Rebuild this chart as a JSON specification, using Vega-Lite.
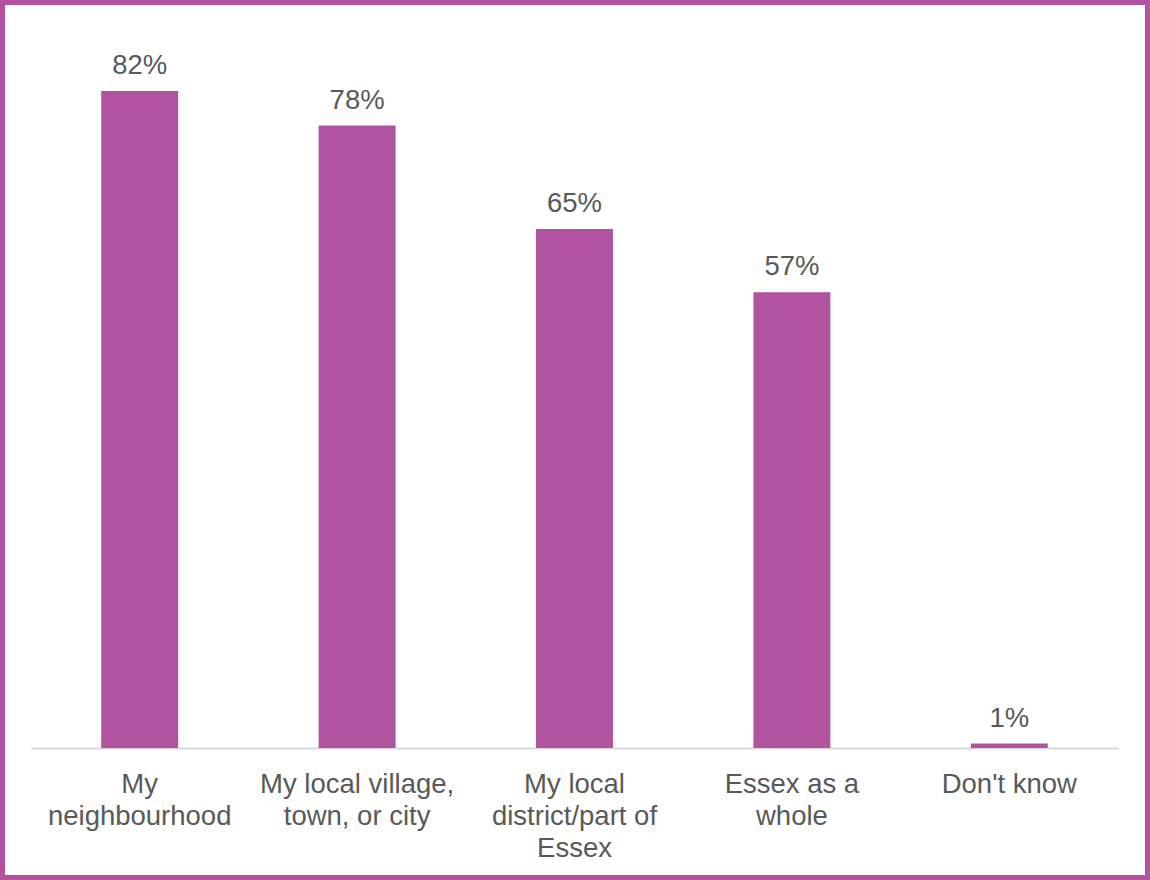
{
  "$schema": "https://vega.github.io/schema/vega-lite/v6.json",
  "width": 1140,
  "height": 870,
  "padding": 5,
  "autosize": {"type": "none"},
  "background": "#B1539F",
  "config": {
    "view": {"fill": "white", "stroke": null},
    "font": "Liberation Sans"
  },
  "data": {
    "values": [
      {"cat": "My neighbourhood", "pct": 0.82},
      {"cat": "My local village, town, or city", "pct": 0.777},
      {"cat": "My local district/part of Essex", "pct": 0.648},
      {"cat": "Essex as a whole", "pct": 0.569},
      {"cat": "Don't know", "pct": 0.0055}
    ]
  },
  "encoding": {
    "x": {
      "field": "cat",
      "type": "nominal",
      "sort": null,
      "scale": {"range": [26, 1113], "paddingInner": 0.646, "paddingOuter": 0.323},
      "axis": {
        "orient": "bottom",
        "offset": -127,
        "title": null,
        "ticks": false,
        "grid": false,
        "labelAngle": 0,
        "labelPadding": 22,
        "labelFontSize": 27.5,
        "labelColor": "#595959",
        "labelLineHeight": 32,
        "labelOverlap": false,
        "labelLimit": 0,
        "domainColor": "#D9D9D9",
        "domainWidth": 2,
        "labelExpr": "datum.value == 'My neighbourhood' ? ['My', 'neighbourhood'] : datum.value == 'My local village, town, or city' ? ['My local village,', 'town, or city'] : datum.value == 'My local district/part of Essex' ? ['My local', 'district/part of', 'Essex'] : datum.value == 'Essex as a whole' ? ['Essex as a', 'whole'] : datum.value"
      }
    },
    "y": {
      "field": "pct",
      "type": "quantitative",
      "scale": {"domain": [0, 0.9], "range": [743, 22]},
      "axis": null
    }
  },
  "layer": [
    {"mark": {"type": "bar", "color": "#B1539F"}},
    {
      "mark": {"type": "text", "baseline": "alphabetic", "dy": -17, "fontSize": 27.5, "color": "#595959"},
      "encoding": {"text": {"field": "pct", "type": "quantitative", "format": ".0%"}}
    }
  ]
}
